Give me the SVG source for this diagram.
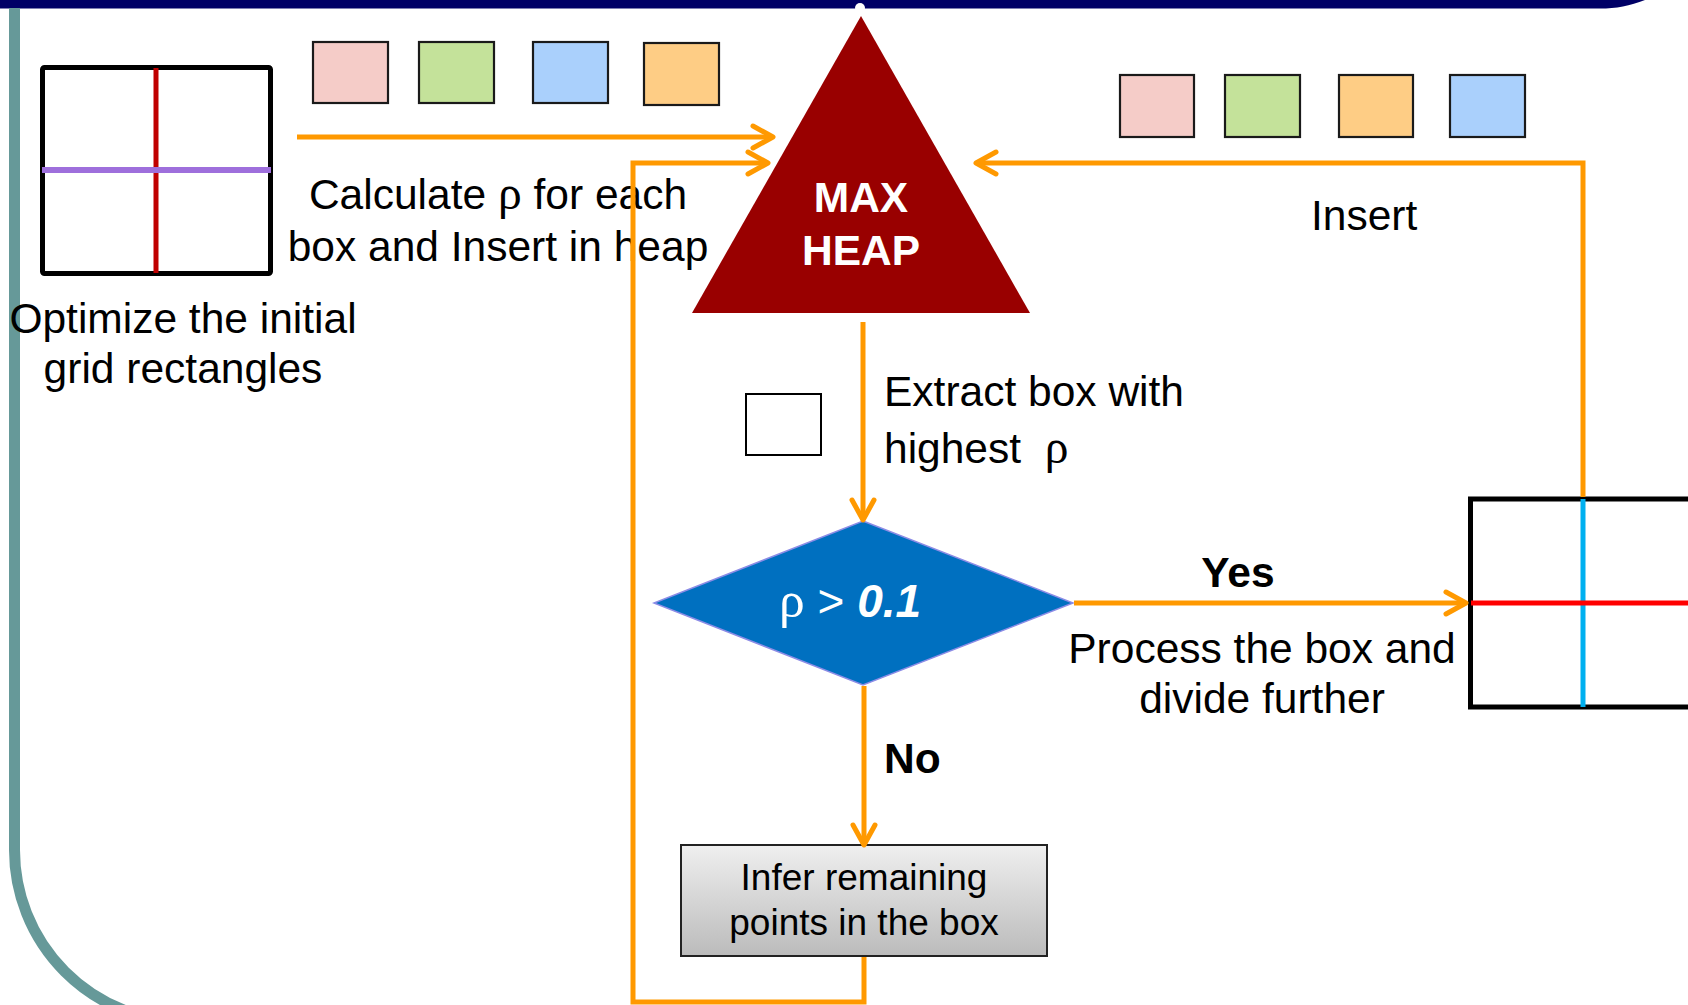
<svg xmlns="http://www.w3.org/2000/svg" width="1688" height="1005" viewBox="0 0 1688 1005">
<defs>
<style>
.t{font-family:"Liberation Sans",Arial,sans-serif;font-size:42.5px;fill:#000}
.m{text-anchor:middle}
.b{font-weight:bold}
.w{fill:#fff}
.rho{font-family:"Liberation Serif","Times New Roman",serif;font-size:1.12em}
.sq{stroke:#1a1a1a;stroke-width:2.2}
.con{fill:none;stroke:#FF9900;stroke-width:5;marker-end:url(#ah)}
.grid{fill:none;stroke:#000;stroke-width:5}
</style>
<marker id="ah" markerUnits="userSpaceOnUse" viewBox="-26 -16 30 32" refX="0" refY="0" markerWidth="30" markerHeight="32" orient="auto">
<path d="M-20,-11 L0,0 L-20,11" fill="none" stroke="#FF9900" stroke-width="5" stroke-linecap="round" stroke-linejoin="round"/>
</marker>
<linearGradient id="gbox" x1="0" y1="0" x2="0" y2="1">
<stop offset="0" stop-color="#EFEFEF"/>
<stop offset="1" stop-color="#BBBBBB"/>
</linearGradient>
</defs>
<rect width="1688" height="1005" fill="#fff"/>
<g id="frame">
<path d="M0,0 H1645 C1630,6 1616,8.5 1600,8.5 H0 Z" fill="#000066"/>
<circle cx="860" cy="8" r="5" fill="#fff"/>
<path d="M14.5,8 V850 A172,172 0 0 0 186.5,1022" fill="none" stroke="#669999" stroke-width="11"/>
</g>
<g id="initial-grid">
<rect class="grid" x="42.5" y="67.5" width="228" height="206" rx="2"/>
<line x1="156" y1="68" x2="156" y2="273" stroke="#C00000" stroke-width="5"/>
<line x1="42" y1="170" x2="271" y2="170" stroke="#9E6FDC" stroke-width="6"/>
<text class="t m" x="183" y="333">Optimize the initial</text>
<text class="t m" x="183" y="383">grid rectangles</text>
</g>
<g id="boxes-left">
<rect class="sq" x="313" y="42" width="75" height="61" fill="#F5CCC8"/>
<rect class="sq" x="419" y="42" width="75" height="61" fill="#C4E29A"/>
<rect class="sq" x="533" y="42" width="75" height="61" fill="#AAD0FC"/>
<rect class="sq" x="644" y="43" width="75" height="62" fill="#FECD85"/>
</g>
<g id="calc-label">
<text class="t m" x="498" y="209">Calculate <tspan class="rho">ρ</tspan> for each</text>
<text class="t m" x="498" y="261">box and Insert in heap</text>
</g>
<g id="max-heap">
<polygon points="861,16 1030,313 692,313" fill="#990000"/>
<text class="t m b w" x="861" y="212">MAX</text>
<text class="t m b w" x="861" y="265">HEAP</text>
</g>
<g id="boxes-right">
<rect class="sq" x="1120" y="75" width="74" height="62" fill="#F5CCC8"/>
<rect class="sq" x="1225" y="75" width="75" height="62" fill="#C4E29A"/>
<rect class="sq" x="1339" y="75" width="74" height="62" fill="#FECD85"/>
<rect class="sq" x="1450" y="75" width="75" height="62" fill="#AAD0FC"/>
</g>
<g id="insert-label">
<text class="t" x="1311" y="230">Insert</text>
</g>
<g id="extracted-box">
<rect x="746" y="394" width="75" height="61" fill="#fff" stroke="#000" stroke-width="2"/>
</g>
<g id="extract-label">
<text class="t" x="884" y="406">Extract box with</text>
<text class="t" x="884" y="463" xml:space="preserve">highest  <tspan class="rho">ρ</tspan></text>
</g>
<g id="decision">
<polygon points="863,521 1073,603 863,685 654,603" fill="#0070C0" stroke="#8C8CE6" stroke-width="1.5"/>
<text class="t w" x="779" y="617" style="font-size:46px"><tspan class="rho">ρ</tspan> &gt; <tspan font-weight="bold" font-style="italic">0.1</tspan></text>
</g>
<g id="yes-label">
<text class="t b m" x="1238" y="587">Yes</text>
<text class="t m" x="1262" y="663">Process the box and</text>
<text class="t m" x="1262" y="713">divide further</text>
</g>
<g id="divided-grid">
<rect class="grid" x="1470.5" y="499" width="300" height="208"/>
<line x1="1583" y1="499" x2="1583" y2="707" stroke="#00B0F0" stroke-width="5"/>
<line x1="1471" y1="603" x2="1688" y2="603" stroke="#FF0000" stroke-width="5"/>
</g>
<g id="no-label">
<text class="t b" x="884" y="773">No</text>
</g>
<g id="infer">
<rect x="681" y="845" width="366" height="111" fill="url(#gbox)" stroke="#222" stroke-width="2"/>
<text class="t m" x="864" y="890" style="font-size:37px">Infer remaining</text>
<text class="t m" x="864" y="935" style="font-size:37px">points in the box</text>
</g>
<g id="connectors">
<path class="con" d="M297,137 H773"/>
<path class="con" d="M864,957 V1002 H633 V163 H768"/>
<path class="con" d="M1583,497 V163 H976"/>
<path class="con" d="M863,322 V520"/>
<path class="con" d="M1074,603 H1466"/>
<path class="con" d="M864,686 V845"/>
</g>
</svg>
